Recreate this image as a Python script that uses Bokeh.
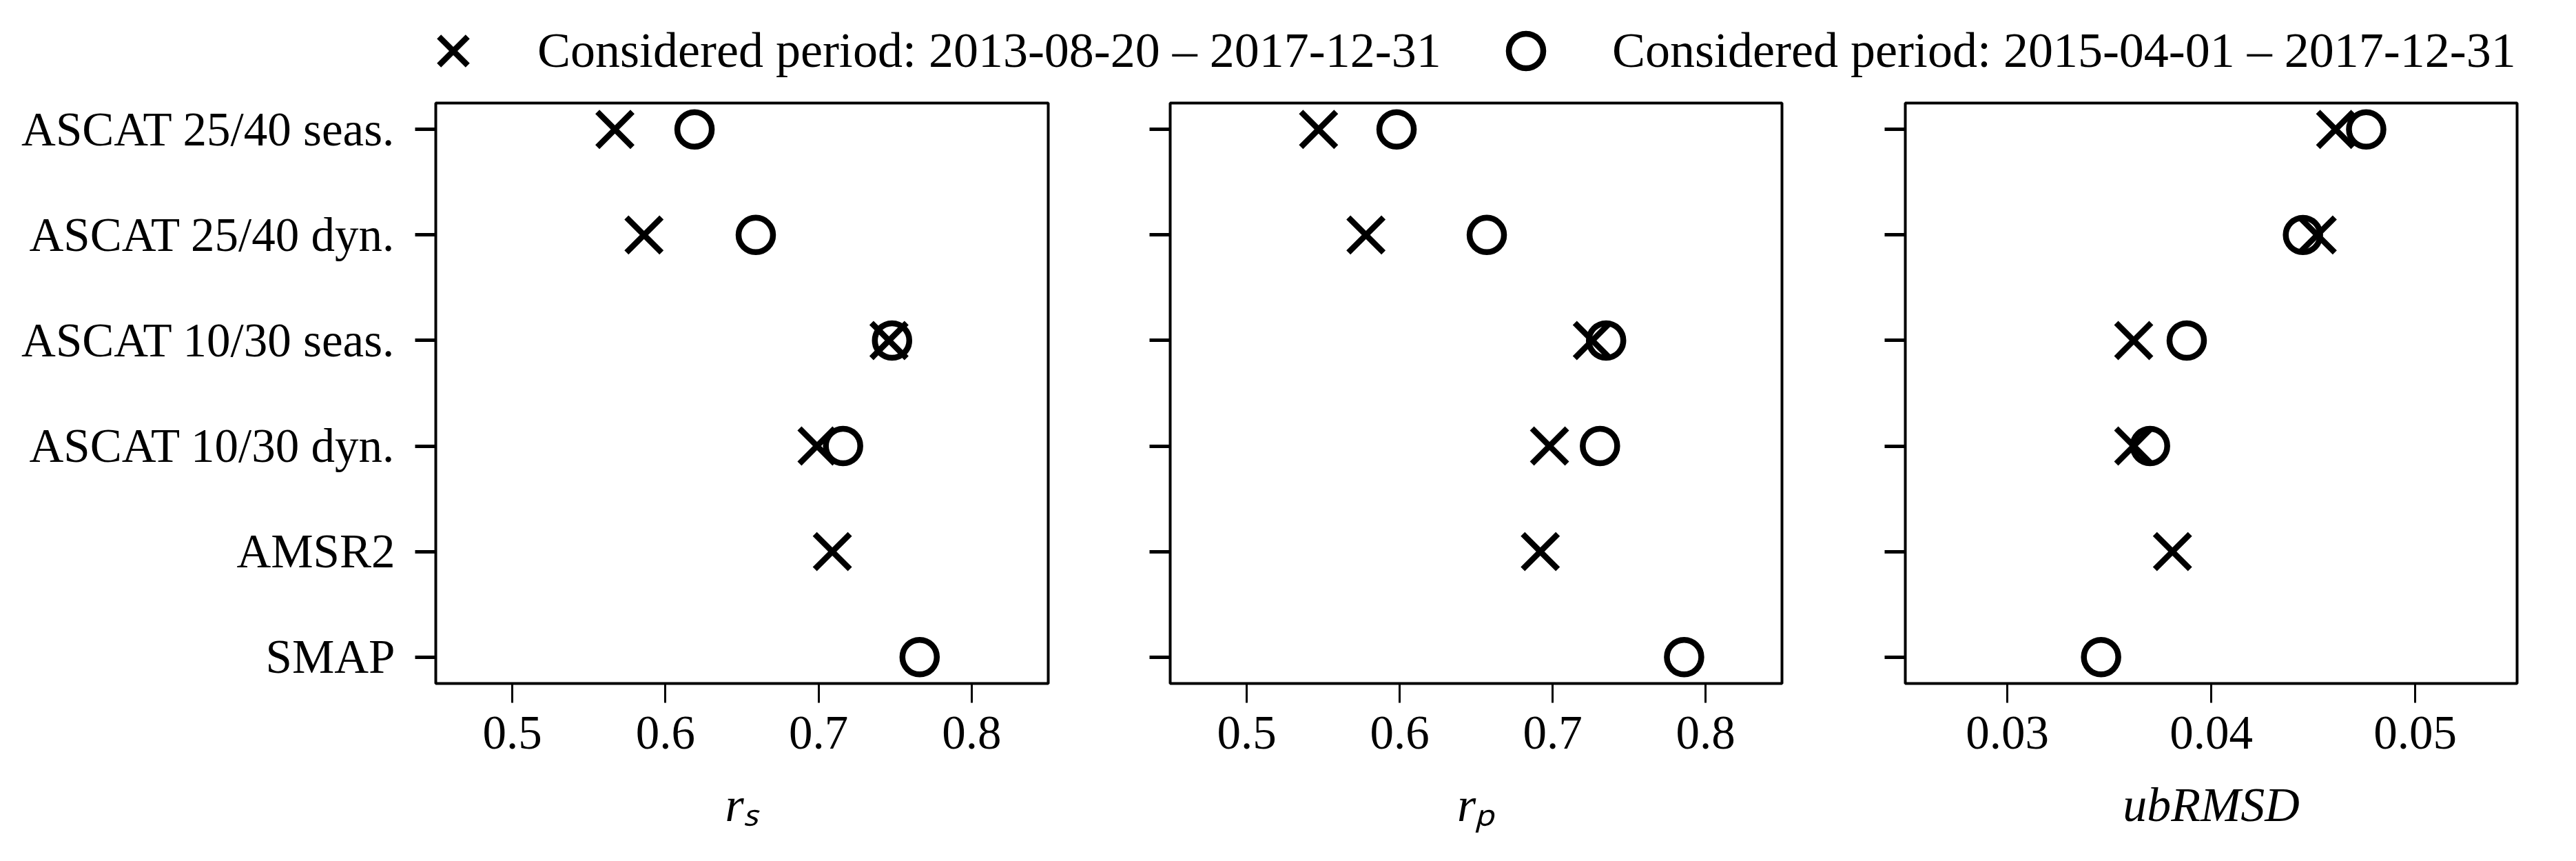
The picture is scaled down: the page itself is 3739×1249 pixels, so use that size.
from bokeh.plotting import figure
from bokeh.models import (Range1d, FactorRange, FixedTicker, Legend, LegendItem,
                          ColumnDataSource, CustomJSTickFormatter)
from bokeh.layouts import column, row
from bokeh.embed import file_html
from bokeh.resources import INLINE

# ---------------- data ----------------
products = ["ASCAT 25/40 seas.", "ASCAT 25/40 dyn.", "ASCAT 10/30 seas.",
            "ASCAT 10/30 dyn.", "AMSR2", "SMAP"]

# period 2013-08-20 – 2017-12-31 (x markers)
rs_long = [0.567, 0.586, 0.746, 0.699, 0.709, None]
rp_long = [0.547, 0.578, 0.726, 0.698, 0.692, None]
ub_long = [0.0461, 0.0452, 0.0362, 0.0362, 0.0381, None]

# period 2015-04-01 – 2017-12-31 (circle markers)
rs_short = [0.619, 0.659, 0.748, 0.716, None, 0.766]
rp_short = [0.598, 0.657, 0.735, 0.731, None, 0.786]
ub_short = [0.0476, 0.0445, 0.0388, 0.0370, None, 0.0346]

long_label = "Considered period: 2013-08-20 \u2013 2017-12-31"
short_label = "Considered period: 2015-04-01 \u2013 2017-12-31"

r_ticks = [0.5, 0.6, 0.7, 0.8]
ub_ticks = [0.03, 0.04, 0.05]
xlabels = ["r\u209B", "r\u209A", "ubRMSD"]

# ---------------- style ----------------
FONT = "Liberation Serif"
FS = "69px"
LEG_FS = "72px"
LABEL_FS = "70px"
X_SIZE = 72
O_SIZE = 50
LW = 8.5


def src(vals):
    ys = [p for p, v in zip(products, vals) if v is not None]
    xs = [v for v in vals if v is not None]
    return ColumnDataSource(dict(x=xs, y=ys))


def panel(x_start, x_end, ticks, long_vals, short_vals, xlabel, show_ylabels, left_border, fw):
    p = figure(
        x_range=Range1d(x_start, x_end),
        y_range=FactorRange(factors=list(reversed(products)), range_padding=-1 / 12,
                            range_padding_units="percent"),
        frame_width=fw, frame_height=842,
        min_border_left=left_border, min_border_right=30,
        min_border_top=2, min_border_bottom=232,
        toolbar_location=None, output_backend="svg",
    )
    p.background_fill_color = "white"
    p.border_fill_color = "white"
    p.outline_line_color = "black"
    p.outline_line_width = 4
    p.xgrid.visible = False
    p.ygrid.visible = False

    p.scatter("x", "y", source=src(long_vals), marker="x", size=X_SIZE,
              line_color="black", line_width=LW)
    p.scatter("x", "y", source=src(short_vals), marker="circle", size=O_SIZE,
              fill_color=None, line_color="black", line_width=LW)

    xa = p.xaxis[0]
    xa.ticker = FixedTicker(ticks=ticks, minor_ticks=[])
    xa.axis_line_color = None
    xa.major_tick_out = 28
    xa.major_tick_in = 0
    xa.major_tick_line_width = 3
    xa.minor_tick_line_color = None
    xa.major_label_text_font = FONT
    xa.major_label_text_font_size = FS
    xa.major_label_text_color = "black"
    xa.major_label_standoff = 20
    xa.axis_label = xlabel
    xa.axis_label_text_font = FONT
    xa.axis_label_text_font_style = "italic"
    xa.axis_label_text_font_size = LABEL_FS
    xa.axis_label_text_color = "black"
    xa.axis_label_standoff = 40

    ya = p.yaxis[0]
    ya.axis_line_color = None
    ya.major_tick_out = 30
    ya.major_tick_in = 0
    ya.major_tick_line_width = 5
    ya.minor_tick_line_color = None
    ya.major_label_text_font = FONT
    ya.major_label_text_font_size = FS
    ya.major_label_text_color = "black"
    ya.major_label_standoff = 29
    if not show_ylabels:
        ya.formatter = CustomJSTickFormatter(code="return ''")
    return p


p1 = panel(0.45, 0.85, r_ticks, rs_long, rs_short, xlabels[0], True, 632, 889)
p2 = panel(0.45, 0.85, r_ticks, rp_long, rp_short, xlabels[1], False, 147, 888)
p3 = panel(0.025, 0.055, ub_ticks, ub_long, ub_short, xlabels[2], False, 149, 888)

TOTAL_W = 632 + 889 + 30 + 147 + 888 + 30 + 149 + 888 + 30

# legend strip (its renderers are hidden; only the legend glyphs are drawn)
lf = figure(width=TOTAL_W, height=147, toolbar_location=None, output_backend="svg",
            x_range=Range1d(0.45, 0.85), y_range=FactorRange(factors=products),
            x_axis_type=None, y_axis_type=None, min_border=0)
lf.outline_line_color = None
lf.xgrid.visible = False
lf.ygrid.visible = False
r_long = lf.scatter("x", "y", source=src(rs_long), marker="x", size=X_SIZE,
                    line_color="black", line_width=LW, visible=False)
r_short = lf.scatter("x", "y", source=src(rs_short), marker="circle", size=O_SIZE,
                     fill_color=None, line_color="black", line_width=LW, visible=False)


def make_legend(label, rend, loc, glyph, standoff):
    lg = Legend(items=[LegendItem(label=label, renderers=[rend])], location=loc,
                orientation="horizontal", glyph_width=glyph, glyph_height=glyph,
                label_standoff=standoff, padding=0, margin=0, spacing=0,
                border_line_color=None, background_fill_alpha=0,
                inactive_fill_alpha=0,
                label_text_font=FONT, label_text_font_size=LEG_FS, label_text_color="black")
    lf.add_layout(lg, "center")


make_legend(long_label, r_long, (584, 0), 147, 49)
make_legend(short_label, r_short, (2152, 11), 125, 63)

layout = column(lf, row(p1, p2, p3, spacing=0), spacing=0)

with open("out.html", "w") as f:
    f.write(file_html(layout, INLINE))
